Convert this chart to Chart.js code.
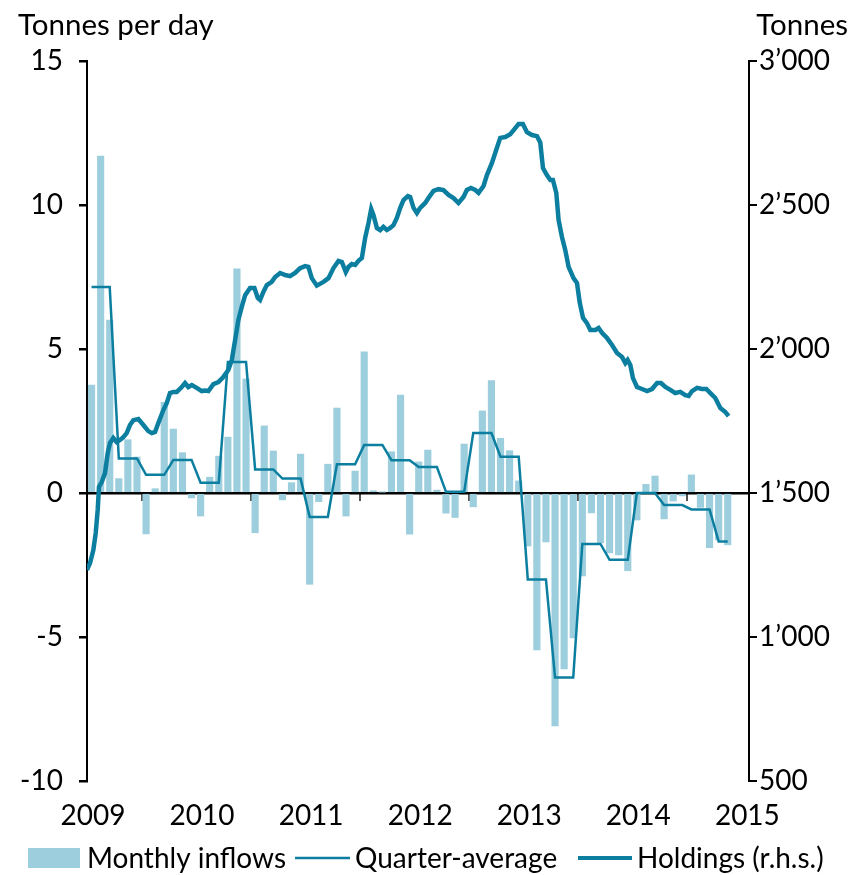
<!DOCTYPE html>
<html>
<head>
<meta charset="utf-8">
<script src="https://cdn.jsdelivr.net/npm/chart.js@4/dist/chart.umd.min.js"></script>
<style>
    body { margin: 0; background: #fff; }
    #wrap { width: 852px; height: 875px; position: relative; }
</style>
</head>
<body>
<div id="wrap"><canvas id="goldChart"></canvas></div>
<script>
// Monthly inflows, tonnes per day, Jan 2009 - Nov 2014
const monthlyInflows = [
    3.75, 11.7, 6.0, 0.5, 1.85, 1.25, -1.42, 0.15, 3.15, 2.22, 1.4, -0.17,
    -0.8, 0.55, 1.28, 1.94, 7.78, 3.96, -1.38, 2.33, 1.46, -0.24, 0.36, 1.35,
    -3.17, -0.3, 1.0, 2.95, -0.8, 0.76, 4.9, 0.08, 0.03, 1.43, 3.4, -1.43,
    1.08, 1.49, 0.1, -0.7, -0.85, 1.7, -0.48, 2.85, 3.9, 1.9, 1.47, 0.42,
    -1.84, -5.45, -1.7, -8.09, -6.11, -5.03, -2.88, -0.69, -1.73, -2.08, -2.15, -2.7,
    -0.94, 0.3, 0.59, -0.9, -0.28, -0.1, 0.63, -0.5, -1.9, -1.63, -1.8
];

// Quarterly averages of the inflows, Q1 2009 - Q4 2014
const quarterAverage = [
    7.15, 1.2, 0.63, 1.15,
    0.36, 4.55, 0.82, 0.5,
    -0.83, 1.0, 1.67, 1.14,
    0.9, 0.04, 2.08, 1.26,
    -3.0, -6.41, -1.77, -2.32,
    0.0, -0.42, -0.57, -1.68
];

// Holdings (tonnes), dates as years since start of 2009
const holdingsDates = [
    0.000, 0.028, 0.058, 0.080, 0.098, 0.110, 0.135, 0.165, 0.190, 0.211,
    0.241, 0.272, 0.303, 0.333, 0.364, 0.394, 0.425, 0.471, 0.517, 0.562,
    0.594, 0.624, 0.654, 0.700, 0.731, 0.761, 0.792, 0.823, 0.869, 0.899,
    0.929, 0.961, 1.006, 1.052, 1.083, 1.113, 1.159, 1.205, 1.250, 1.296,
    1.328, 1.358, 1.388, 1.419, 1.450, 1.495, 1.535, 1.566, 1.587, 1.617,
    1.649, 1.694, 1.725, 1.771, 1.817, 1.862, 1.908, 1.954, 2.000, 2.030,
    2.061, 2.107, 2.168, 2.214, 2.260, 2.306, 2.337, 2.373, 2.397, 2.428,
    2.459, 2.489, 2.520, 2.550, 2.581, 2.606, 2.627, 2.658, 2.688, 2.718,
    2.750, 2.780, 2.810, 2.841, 2.872, 2.902, 2.942, 2.963, 2.994, 3.025,
    3.055, 3.101, 3.131, 3.177, 3.223, 3.269, 3.315, 3.361, 3.406, 3.452,
    3.483, 3.520, 3.560, 3.590, 3.636, 3.667, 3.713, 3.752, 3.789, 3.835,
    3.881, 3.927, 3.957, 3.997, 4.034, 4.080, 4.126, 4.156, 4.181, 4.217,
    4.248, 4.272, 4.303, 4.324, 4.355, 4.385, 4.416, 4.461, 4.493, 4.517,
    4.548, 4.584, 4.615, 4.661, 4.691, 4.722, 4.768, 4.814, 4.860, 4.906,
    4.936, 4.957, 4.982, 5.006, 5.043, 5.089, 5.135, 5.181, 5.227, 5.263,
    5.303, 5.349, 5.394, 5.440, 5.486, 5.517, 5.548, 5.594, 5.639, 5.679,
    5.716, 5.761, 5.807, 5.853, 5.883
];
const holdingsTonnes = [
    1233, 1257, 1302, 1361, 1441, 1521, 1538, 1569, 1639, 1674,
    1691, 1677, 1684, 1694, 1708, 1736, 1753, 1757, 1736, 1715,
    1708, 1712, 1743, 1788, 1812, 1847, 1851, 1851, 1868, 1882,
    1868, 1875, 1865, 1854, 1856, 1854, 1878, 1885, 1903, 1927,
    1962, 2031, 2101, 2146, 2187, 2212, 2212, 2177, 2170, 2198,
    2222, 2233, 2250, 2264, 2257, 2253, 2264, 2281, 2288, 2285,
    2246, 2220, 2233, 2246, 2281, 2306, 2302, 2267, 2285, 2295,
    2292, 2306, 2316, 2385, 2437, 2486, 2465, 2420, 2413, 2424,
    2413, 2420, 2430, 2455, 2490, 2517, 2531, 2528, 2490, 2472,
    2490, 2507, 2524, 2549, 2555, 2552, 2535, 2524, 2507, 2528,
    2552, 2559, 2552, 2542, 2566, 2604, 2646, 2691, 2733, 2736,
    2746, 2767, 2781, 2781, 2753, 2743, 2739, 2717, 2628, 2604,
    2587, 2587, 2542, 2448, 2389, 2344, 2285, 2246, 2229, 2163,
    2108, 2090, 2066, 2066, 2073, 2056, 2038, 2014, 1986, 1972,
    1951, 1962, 1944, 1899, 1868, 1861, 1854, 1861, 1882, 1882,
    1868, 1858, 1847, 1851, 1840, 1837, 1854, 1865, 1861, 1861,
    1847, 1830, 1795, 1781, 1767
];

const startYear = 2009;
const yearTicks = [2009, 2010, 2011, 2012, 2013, 2014, 2015];

const barColor = '#9dcedd';
const lineColor = '#0c7fa0';
const fontFamily = 'Lato, "Open Sans", sans-serif';
const fontSize = 28;
const captionSize = 29.5;

// month index -> middle of that month on the year axis
function monthX(i) {
    return startYear + (i + 0.5) / 12;
}

const inflowPoints = monthlyInflows.map((v, i) => ({ x: monthX(i), y: v }));
const quarterPoints = monthlyInflows.map((v, i) => ({ x: monthX(i), y: quarterAverage[Math.floor(i / 3)] }));
const holdingsPoints = holdingsDates.map((d, i) => ({ x: startYear + d, y: holdingsTonnes[i] }));

function thousands(value) {
    const s = String(value);
    return s.length > 3 ? s.slice(0, -3) + '\u2019' + s.slice(-3) : s;
}

// axis captions and the legend row
const captionPlugin = {
    id: 'captions',
    afterDraw(chart) {
        const ctx = chart.ctx;
        ctx.save();
        ctx.fillStyle = '#000';
        ctx.font = captionSize + 'px ' + fontFamily;
        ctx.textBaseline = 'alphabetic';
        ctx.textAlign = 'left';
        ctx.fillText('Tonnes per day', 18, 35);
        ctx.textAlign = 'right';
        ctx.fillText('Tonnes', 848, 35);

        // legend
        ctx.font = fontSize + 'px ' + fontFamily;
        ctx.textAlign = 'left';
        const y = 858;
        ctx.fillStyle = barColor;
        ctx.fillRect(28, y - 10, 52, 20);
        ctx.fillStyle = '#000';
        ctx.fillText('Monthly inflows', 87, y + 10);

        ctx.strokeStyle = lineColor;
        ctx.lineWidth = 2.5;
        ctx.beginPath();
        ctx.moveTo(295, y);
        ctx.lineTo(350, y);
        ctx.stroke();
        ctx.fillText('Quarter-average', 355, y + 10);

        ctx.lineWidth = 4;
        ctx.beginPath();
        ctx.moveTo(578, y);
        ctx.lineTo(632, y);
        ctx.stroke();
        ctx.fillText('Holdings (r.h.s.)', 637, y + 10);
        ctx.restore();
    }
};

function initializeChart() {
    const ctx = document.getElementById('goldChart').getContext('2d');
    new Chart(ctx, {
        type: 'bar',
        data: {
            datasets: [
                {
                    type: 'line',
                    label: 'Holdings (r.h.s.)',
                    data: holdingsPoints,
                    yAxisID: 'y2',
                    borderColor: lineColor,
                    borderWidth: 4.5,
                    pointRadius: 0,
                    tension: 0,
                    order: 1
                },
                {
                    type: 'line',
                    label: 'Quarter-average',
                    data: quarterPoints,
                    yAxisID: 'y',
                    borderColor: lineColor,
                    borderWidth: 2.5,
                    pointRadius: 0,
                    tension: 0,
                    order: 2
                },
                {
                    type: 'bar',
                    label: 'Monthly inflows',
                    data: inflowPoints,
                    yAxisID: 'y',
                    backgroundColor: barColor,
                    barThickness: 6.5,
                    order: 3
                }
            ]
        },
        options: {
            responsive: true,
            maintainAspectRatio: false,
            animation: false,
            layout: {
                padding: { top: 61, left: 0, right: 0, bottom: 0 }
            },
            plugins: {
                legend: { display: false },
                tooltip: { enabled: false }
            },
            scales: {
                x: {
                    type: 'linear',
                    position: 'bottom',
                    offset: false,
                    min: 2009,
                    max: 2015.07,
                    grid: { display: false, drawTicks: false },
                    border: { display: false },
                    ticks: {
                        stepSize: 1,
                        includeBounds: false,
                        autoSkip: false,
                        maxRotation: 0,
                        padding: 18,
                        labelOffset: 6,
                        color: '#000',
                        font: { family: fontFamily, size: fontSize },
                        callback: value => yearTicks.includes(value) ? String(value) : ''
                    },
                    afterFit: scale => { scale.height = 94; }
                },
                xZero: {
                    type: 'linear',
                    axis: 'x',
                    position: { y: 0 },
                    offset: false,
                    min: 2009,
                    max: 2015.07,
                    grid: {
                        drawOnChartArea: false,
                        drawTicks: true,
                        tickLength: 8,
                        color: '#555',
                        lineWidth: 2
                    },
                    border: { display: false },
                    ticks: { display: false, stepSize: 1, includeBounds: false }
                },
                y: {
                    position: 'left',
                    min: -10,
                    max: 15,
                    grid: {
                        drawOnChartArea: true,
                        drawTicks: true,
                        tickLength: 8,
                        lineWidth: 2.5,
                        color: c => (c.tick && c.tick.value === 0) ? '#000' : 'rgba(0,0,0,0)',
                        tickColor: '#000'
                    },
                    border: { display: true, color: '#000', width: 2 },
                    ticks: {
                        stepSize: 5,
                        padding: 16,
                        color: '#000',
                        font: { family: fontFamily, size: fontSize }
                    },
                    afterFit: scale => { scale.width = 87; }
                },
                y2: {
                    position: 'right',
                    min: 500,
                    max: 3000,
                    grid: {
                        drawOnChartArea: false,
                        drawTicks: true,
                        tickLength: 8,
                        lineWidth: 2,
                        tickColor: '#000'
                    },
                    border: { display: true, color: '#000', width: 2 },
                    ticks: {
                        stepSize: 500,
                        padding: 2,
                        color: '#000',
                        font: { family: fontFamily, size: fontSize },
                        callback: value => thousands(value)
                    },
                    afterFit: scale => { scale.width = 103; }
                }
            }
        },
        plugins: [captionPlugin]
    });
}

document.addEventListener('DOMContentLoaded', initializeChart);
</script>
</body>
</html>
